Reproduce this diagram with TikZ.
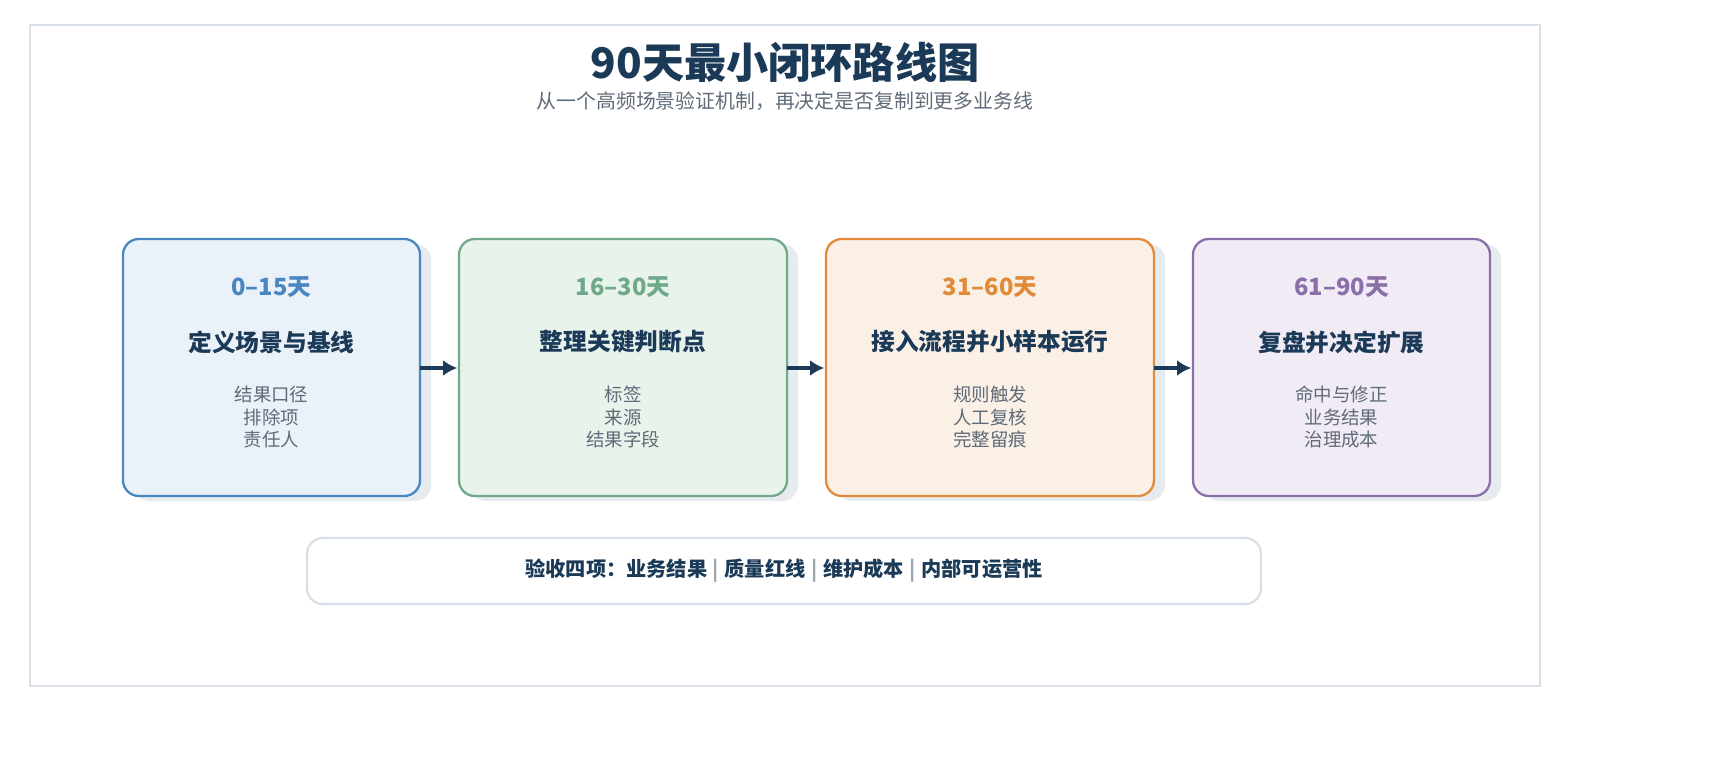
\documentclass[tikz,border=0pt]{standalone}
\usepackage{fontspec}
\setmainfont{Noto Sans CJK SC}
\usepackage{tikz}
\usetikzlibrary{positioning,calc,arrows.meta}
\definecolor{navy}{HTML}{1B3A57}
\definecolor{txtgray}{HTML}{5F6B78}
\definecolor{framegray}{HTML}{D9E0E7}
\definecolor{shadowgray}{HTML}{E6EBF0}
\definecolor{cblue}{HTML}{4A86BF}\definecolor{fblue}{HTML}{EAF1F8}
\definecolor{cgreen}{HTML}{6FA98A}\definecolor{fgreen}{HTML}{E8F3EC}
\definecolor{corange}{HTML}{E08A3A}\definecolor{forange}{HTML}{FBF0E6}
\definecolor{cpurple}{HTML}{8A6FA8}\definecolor{fpurple}{HTML}{F1EBF6}
\newcommand{\sepbar}{{\color{txtgray!60}\;\textbar\;}}
\tikzset{
  stage/.style={draw=#1,line width=1.3pt,rounded corners=9pt},
  period/.style={font=\bfseries\fontsize{13.5}{16}\selectfont},
  heading/.style={font=\bfseries\fontsize{13.5}{16}\selectfont,text=navy},
  items/.style={font=\fontsize{10.5}{13}\selectfont,text=txtgray,align=center},
  flow/.style={-{Latex[length=8pt,width=9pt]},line width=2.4pt,draw=navy}
}
\begin{document}
\begin{tikzpicture}[x=0.02cm,y=-0.02cm]
\useasboundingbox (0,0) rectangle (1717,777);
\draw[framegray,line width=1pt] (30,25) rectangle (1540,686);
\node (title) at (785,62) {\bfseries\fontsize{24}{28}\selectfont\color{navy}90天最小闭环路线图};
\node (sub) at (785,101) {\fontsize{11.3}{14}\selectfont\color{txtgray}从一个高频场景验证机制，再决定是否复制到更多业务线};
% stages: left, right, colours, period, heading, items
\foreach \i/\l/\r/\c/\p/\h/\t in {
  1/123/420/blue/0–15天/定义场景与基线/{结果口径\\排除项\\责任人},
  2/459/787/green/16–30天/整理关键判断点/{标签\\来源\\结果字段},
  3/826/1154/orange/31–60天/接入流程并小样本运行/{规则触发\\人工复核\\完整留痕},
  4/1193/1490/purple/61–90天/复盘并决定扩展/{命中与修正\\业务结果\\治理成本}}{
  \fill[shadowgray,rounded corners=9pt] (\l+11,244) rectangle (\r+11,501);
  \draw[stage=c\c,fill=f\c] (\l,239) rectangle (\r,496);
  \coordinate (s\i w) at (\l,368);
  \coordinate (s\i e) at (\r,368);
  \node[period,text=c\c] (p\i) at ({(\l+\r)/2},287) {\p};
  \node[heading] (h\i) at ({(\l+\r)/2},342) {\h};
  \node[items] (t\i) at ({(\l+\r)/2},417) {\t};
}
\foreach \a/\b in {1/2,2/3,3/4}{
  \draw[flow] (s\a e) -- ([xshift=-1]s\b w);
}
\draw[framegray,line width=1.3pt,fill=white,rounded corners=9pt] (307,538) rectangle (1261,604);
\node (accept) at (784,571) {\bfseries\fontsize{11.5}{14}\selectfont\color{navy}验收四项：业务结果\sepbar 质量红线\sepbar 维护成本\sepbar 内部可运营性};
\end{tikzpicture}
\end{document}
